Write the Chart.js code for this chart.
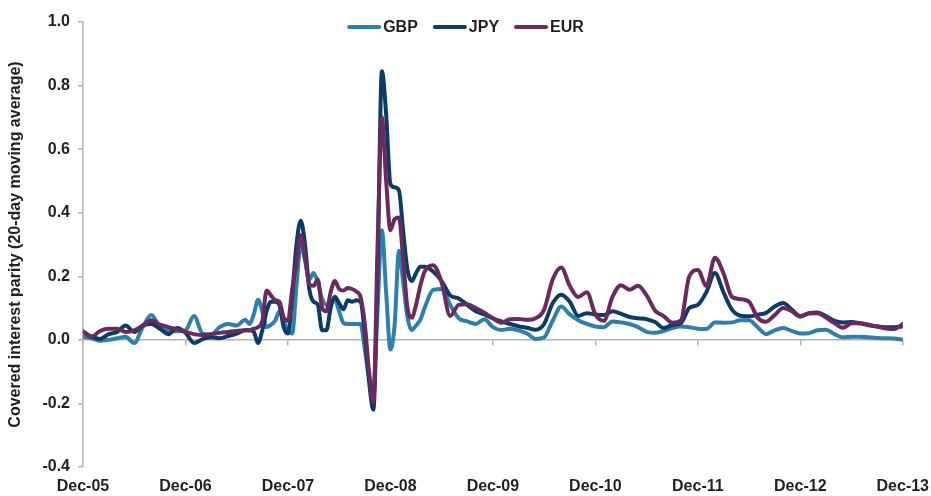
<!DOCTYPE html>
<html>
<head>
<meta charset="utf-8">
<script src="https://cdn.jsdelivr.net/npm/chart.js@4.4.1/dist/chart.umd.min.js"></script>
<style>
  html, body { margin: 0; padding: 0; background: #fff; }
  #wrap { width: 931px; height: 496px; }
</style>
</head>
<body>
<div id="wrap"><canvas id="cip"></canvas></div>
<script>
// months since Dec-05 (finer around the 2008 spike)
const months = [
    0, 1, 2, 3, 4, 5, 6, 7, 8, 9, 10, 11, 12, 13, 14, 15, 16, 17, 18, 19,
    19.5, 20, 20.5, 21, 21.5, 22, 22.5, 23, 23.5, 24, 24.5, 25, 25.5, 26, 26.5, 27, 27.5, 28, 28.5, 29,
    29.5, 30, 30.5, 31, 31.5, 32, 32.5, 33, 33.5, 34, 34.5, 35, 35.5, 36, 36.5, 37, 37.5, 38, 38.5, 39, 39.5, 40,
    41, 42, 43, 44, 45, 46, 47, 48, 49, 50, 51, 52, 53, 54, 55, 56, 57, 58, 59, 60,
    61, 62, 63, 64, 65, 66, 67, 68, 69, 70, 71, 72, 73, 74, 75, 76, 77, 78, 79, 80,
    81, 82, 83, 84, 85, 86, 87, 88, 89, 90, 91, 92, 93, 94, 95, 96
];

const gbp = [
    0.01, 0.005, -0.003, 0.0, 0.005, 0.01, -0.01, 0.04, 0.078, 0.04, 0.03, 0.027, 0.03, 0.075, 0.02, 0.016, 0.04, 0.05, 0.045, 0.063,
    0.05, 0.08, 0.126, 0.09, 0.04, 0.047, 0.06, 0.09, 0.06, 0.025, 0.02, 0.17, 0.30, 0.25, 0.19, 0.21, 0.18, 0.13, 0.11, 0.12,
    0.126, 0.09, 0.053, 0.05, 0.05, 0.05, 0.05, -0.03, -0.12, -0.16, 0.1, 0.345, 0.15, -0.03, 0.05, 0.28, 0.18, 0.07, 0.031, 0.045, 0.063, 0.1,
    0.157, 0.16, 0.11, 0.068, 0.058, 0.05, 0.065, 0.04, 0.031, 0.035, 0.03, 0.02, 0.003, 0.008, 0.06, 0.105, 0.08, 0.062, 0.05, 0.042,
    0.04, 0.058, 0.055, 0.05, 0.04, 0.025, 0.022, 0.028, 0.037, 0.042, 0.04, 0.035, 0.034, 0.055, 0.054, 0.055, 0.062, 0.062, 0.04, 0.018,
    0.03, 0.037, 0.028, 0.02, 0.021, 0.03, 0.032, 0.018, 0.008, 0.01, 0.01, 0.008, 0.006, 0.005, 0.004, 0.001
];

const jpy = [
    0.026, 0.01, 0.003, 0.018, 0.025, 0.045, 0.025, 0.045, 0.05, 0.035, 0.018, 0.037, 0.022, -0.01, 0.002, 0.008, 0.005, 0.012, 0.02, 0.03,
    0.03, 0.025, -0.01, 0.03, 0.09, 0.12, 0.12, 0.11, 0.04, 0.02, 0.14, 0.3, 0.375, 0.3, 0.16, 0.12, 0.11, 0.03, 0.03, 0.1,
    0.136, 0.115, 0.096, 0.125, 0.12, 0.125, 0.12, 0.02, -0.13, -0.22, 0.22, 0.845, 0.71, 0.49, 0.48, 0.47, 0.34, 0.22, 0.185, 0.21, 0.23, 0.23,
    0.215, 0.185, 0.14, 0.13, 0.11, 0.09, 0.08, 0.068, 0.058, 0.05, 0.043, 0.038, 0.032, 0.05, 0.115, 0.142, 0.12, 0.075, 0.084, 0.08,
    0.078, 0.09, 0.082, 0.072, 0.068, 0.065, 0.056, 0.037, 0.047, 0.052, 0.1, 0.11, 0.15, 0.21, 0.15, 0.095, 0.076, 0.074, 0.079, 0.085,
    0.105, 0.116, 0.095, 0.075, 0.084, 0.086, 0.075, 0.06, 0.055, 0.056, 0.052, 0.046, 0.042, 0.04, 0.04, 0.042
];

const eur = [
    0.026, 0.01, 0.028, 0.035, 0.035, 0.025, 0.03, 0.045, 0.062, 0.048, 0.04, 0.033, 0.025, 0.018, 0.015, 0.018, 0.022, 0.025, 0.028, 0.03,
    0.03, 0.035, 0.04, 0.06, 0.155, 0.14, 0.125, 0.12, 0.07, 0.06, 0.16, 0.24, 0.33, 0.26, 0.175, 0.17, 0.19, 0.1, 0.09, 0.15,
    0.185, 0.16, 0.155, 0.163, 0.16, 0.152, 0.135, 0.05, -0.1, -0.195, 0.3, 0.70, 0.5, 0.345, 0.38, 0.385, 0.25, 0.1, 0.07, 0.11, 0.17, 0.215,
    0.235, 0.18, 0.075, 0.11, 0.112, 0.1, 0.085, 0.068, 0.054, 0.065, 0.066, 0.063, 0.068, 0.095, 0.19, 0.228, 0.17, 0.135, 0.15, 0.08,
    0.06, 0.135, 0.172, 0.158, 0.17, 0.14, 0.092, 0.075, 0.054, 0.06, 0.2, 0.22, 0.17, 0.258, 0.21, 0.135, 0.128, 0.12, 0.07, 0.057,
    0.078, 0.1, 0.09, 0.073, 0.083, 0.084, 0.07, 0.053, 0.038, 0.052, 0.052, 0.048, 0.042, 0.036, 0.034, 0.05
];

const tickMonths = [0, 12, 24, 36, 48, 60, 72, 84, 96];
const tickLabels = ["Dec-05", "Dec-06", "Dec-07", "Dec-08", "Dec-09", "Dec-10", "Dec-11", "Dec-12", "Dec-13"];

const textColor = '#231f20';
const axisColor = '#b3b3b3';
const fontFamily = "'Liberation Sans', Arial, sans-serif";

// legend drawn over the plot, centred on the canvas
const topLegend = {
    id: 'topLegend',
    afterDraw(chart) {
        const ctx = chart.ctx;
        const lineLen = 34, gap = 2, itemGap = 15, y = 27;
        ctx.save();
        ctx.font = "bold 16px " + fontFamily;
        const sets = chart.data.datasets;
        let total = 0;
        sets.forEach((ds, i) => {
            total += lineLen + gap + ctx.measureText(ds.label).width;
            if (i < sets.length - 1) total += itemGap;
        });
        let x = chart.width / 2 - total / 2;
        sets.forEach(ds => {
            ctx.strokeStyle = ds.borderColor;
            ctx.lineWidth = 4;
            ctx.lineCap = 'round';
            ctx.beginPath();
            ctx.moveTo(x + 2, y);
            ctx.lineTo(x + lineLen - 2, y);
            ctx.stroke();
            x += lineLen + gap;
            ctx.fillStyle = textColor;
            ctx.textBaseline = 'middle';
            ctx.textAlign = 'left';
            ctx.fillText(ds.label, x, y + 1);
            x += ctx.measureText(ds.label).width + itemGap;
        });
        ctx.restore();
    }
};

function yearTicks(axis) {
    axis.ticks = tickMonths.map(v => ({ value: v }));
}

const cipChart = new Chart(document.getElementById('cip'), {
    type: 'line',
    data: {
        labels: months,
        datasets: [
            { label: 'GBP', data: gbp, borderColor: '#2e7fab', order: 3 },
            { label: 'JPY', data: jpy, borderColor: '#0b3b66', order: 2 },
            { label: 'EUR', data: eur, borderColor: '#6a2a5f', order: 1 }
        ]
    },
    options: {
        responsive: true,
        maintainAspectRatio: false,
        animation: false,
        layout: { padding: { top: 22, right: 28, left: 0, bottom: 0 } },
        elements: {
            point: { radius: 0 },
            line: { borderWidth: 4, cubicInterpolationMode: 'monotone', borderCapStyle: 'round', borderJoinStyle: 'round', fill: false }
        },
        plugins: {
            legend: { display: false },
            tooltip: { enabled: false }
        },
        scales: {
            x: {
                type: 'linear',
                min: 0,
                max: 96,
                position: 'bottom',
                border: { display: false },
                grid: { display: false },
                afterBuildTicks: yearTicks,
                afterFit: scale => { scale.height = 29; },
                ticks: {
                    padding: 2,
                    maxRotation: 0,
                    autoSkip: false,
                    color: textColor,
                    font: { family: fontFamily, size: 16, weight: 'bold' },
                    callback: v => tickLabels[tickMonths.indexOf(v)]
                }
            },
            zeroAxis: {
                type: 'linear',
                axis: 'x',
                min: 0,
                max: 96,
                position: { y: 0 },
                border: { display: true, color: axisColor, width: 1.5 },
                grid: { display: true, drawOnChartArea: false, drawTicks: true, tickLength: 5, color: axisColor, lineWidth: 1.5 },
                afterBuildTicks: yearTicks,
                ticks: { display: false }
            },
            y: {
                min: -0.4,
                max: 1.0,
                border: { display: true, color: axisColor, width: 1.5 },
                grid: { display: true, drawOnChartArea: false, drawTicks: true, tickLength: 5, color: axisColor, lineWidth: 1.5 },
                afterFit: scale => { scale.width = 83; },
                ticks: {
                    stepSize: 0.2,
                    padding: 8,
                    color: textColor,
                    font: { family: fontFamily, size: 16, weight: 'bold' },
                    callback: v => (Math.abs(v) < 1e-9 ? 0 : v).toFixed(1)
                },
                title: {
                    display: true,
                    text: 'Covered interest parity (20-day moving average)',
                    color: textColor,
                    font: { family: fontFamily, size: 16, weight: 'bold' },
                    padding: { top: 6, bottom: 0 }
                }
            }
        }
    },
    plugins: [topLegend]
});
</script>
</body>
</html>
